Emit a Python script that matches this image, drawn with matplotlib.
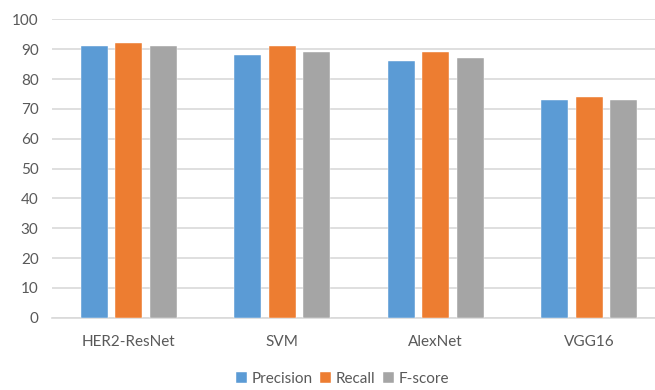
import matplotlib
matplotlib.use("Agg")
import matplotlib.pyplot as plt
import numpy as np

categories = ["HER2-ResNet", "SVM", "AlexNet", "VGG16"]
precision = [91, 88, 86, 73]
recall = [92, 91, 89, 74]
fscore = [91, 89, 87, 73]
series_names = ["Precision", "Recall", "F-score"]
colors = ["#5B9BD5", "#ED7D31", "#A5A5A5"]
yticks = [0, 10, 20, 30, 40, 50, 60, 70, 80, 90, 100]

plt.rcParams['font.family'] = ['Lato', 'DejaVu Sans']

fig = plt.figure(figsize=(6.55, 3.9), dpi=100)
ax = fig.add_axes([0.079, 0.185, 0.921, 0.7655])

x = np.arange(len(categories))
w = 0.176
step = 0.2246
for i, (vals, name, c) in enumerate(zip([precision, recall, fscore], series_names, colors)):
    ax.bar(x + (i - 1) * step, vals, width=w, color=c, label=name, zorder=3,
           edgecolor="white", linewidth=0.3)

ax.set_ylim(0, 100)
ax.set_xlim(-0.5, 3.428)
ax.set_yticks(yticks)
ax.set_xticks(x)
ax.set_xticklabels(categories)
ax.yaxis.grid(True, color="#D9D9D9", linewidth=1.2, zorder=0)
ax.set_axisbelow(True)
for s in ["top", "right", "left"]:
    ax.spines[s].set_visible(False)
ax.spines["bottom"].set_color("#D9D9D9")
ax.spines["bottom"].set_linewidth(1.2)
ax.tick_params(axis="both", length=0, colors="#595959", labelsize=11)
ax.tick_params(axis="x", pad=12)
ax.tick_params(axis="y", pad=9.5)

leg = fig.legend(loc="center", bbox_to_anchor=(0.523, 0.028), ncol=3, frameon=False,
                 fontsize=11, handlelength=0.7, handleheight=0.7, handletextpad=0.3,
                 columnspacing=0.5)
for t in leg.get_texts():
    t.set_color("#595959")

fig.savefig("out.png", dpi=100)
